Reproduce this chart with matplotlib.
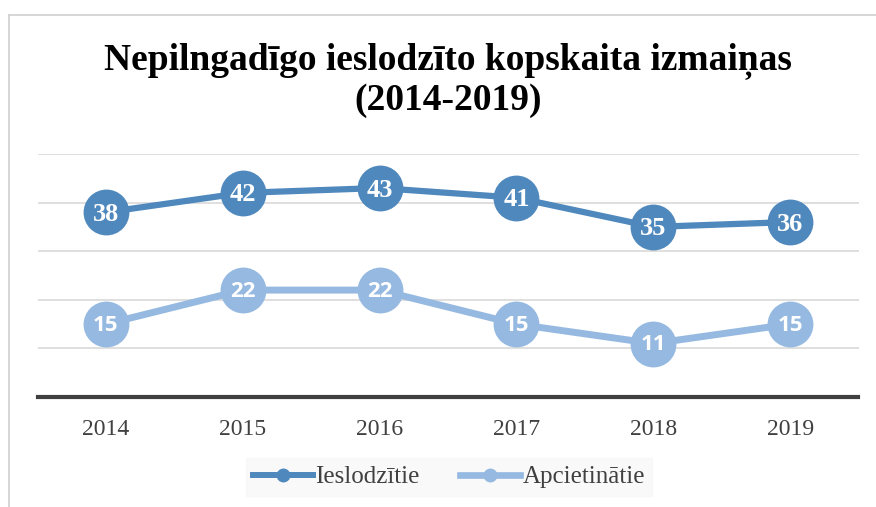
import matplotlib
matplotlib.use('Agg')
import matplotlib.pyplot as plt
from matplotlib.lines import Line2D

# chart data
years = ['2014', '2015', '2016', '2017', '2018', '2019']
ieslodzitie = [38, 42, 43, 41, 35, 36]
apcietinatie = [15, 22, 22, 15, 11, 15]

dark_blue = '#4f88bd'
light_blue = '#95b9e0'
serif = ['Liberation Serif', 'DejaVu Serif']

fig = plt.figure(figsize=(8.76, 5.07), dpi=100)
W, H = 876, 507

# outer chart border (cropped on the right and bottom)
fig.add_artist(Line2D([8.5 / W, 8.5 / W], [0, 1 - 14.5 / H], color='#d0d0d0', lw=1.2))
fig.add_artist(Line2D([8.5 / W, 1], [1 - 14.5 / H, 1 - 14.5 / H], color='#d0d0d0', lw=1.2))

ax = fig.add_axes([37.5 / W, 1 - 397 / H, 821 / W, 243 / H])
x = list(range(len(years)))

ax.set_xlim(-0.5, len(years) - 0.5)
ax.set_ylim(0, 50)
ax.set_yticks([10, 20, 30, 40, 50])
ax.yaxis.grid(True, color='#d9d9d9', lw=1.2)
ax.set_axisbelow(True)
for s in ['top', 'right', 'left']:
    ax.spines[s].set_visible(False)
ax.spines['bottom'].set_color('#404040')
ax.spines['bottom'].set_linewidth(3)
ax.tick_params(axis='y', left=False, labelleft=False)
ax.tick_params(axis='x', bottom=False, pad=12.5)
ax.set_xticks(x)
ax.set_xticklabels(years, fontsize=17, color='#404040', family=serif)

ax.plot(x, ieslodzitie, color=dark_blue, lw=4.5, marker='o', markersize=33,
        markeredgewidth=0, label='Ieslodzītie', clip_on=False, zorder=3)
ax.plot(x, apcietinatie, color=light_blue, lw=5, marker='o', markersize=33,
        markeredgewidth=0, label='Apcietinātie', clip_on=False, zorder=3)

for xi, v in zip(x, ieslodzitie):
    ax.annotate(str(v), (xi, v), xytext=(0, -1.5), textcoords='offset points',
                ha='center', va='center', color='white',
                fontsize=19, fontweight='bold', family=serif, zorder=4)
for xi, v in zip(x, apcietinatie):
    ax.annotate(str(v), (xi, v), xytext=(0, -1), textcoords='offset points',
                ha='center', va='center', color='white', fontsize=16,
                fontweight='bold', family=['Open Sans', 'DejaVu Sans'], zorder=4)

fig.text(448 / W, 1 - 80 / H, 'Nepilngadīgo ieslodzīto kopskaita izmaiņas\n(2014-2019)',
         ha='center', va='center', fontsize=27, fontweight='bold', family=serif,
         linespacing=1.16)

handles = [Line2D([], [], color=dark_blue, lw=4.3, marker='o', markersize=9),
           Line2D([], [], color=light_blue, lw=4.8, marker='o', markersize=9)]
leg = fig.legend(handles, ['Ieslodzītie', 'Apcietinātie'], loc='center',
                 bbox_to_anchor=(449 / W, 1 - 477 / H), ncol=2, frameon=True,
                 fancybox=False, facecolor='#f8f8f8', edgecolor='#f8f8f8',
                 prop={'family': serif, 'size': 18}, handlelength=2.4,
                 columnspacing=1.6, handletextpad=0.1, borderpad=0.3)
for t in leg.get_texts():
    t.set_color('#404040')

fig.savefig('out.png', dpi=100)
